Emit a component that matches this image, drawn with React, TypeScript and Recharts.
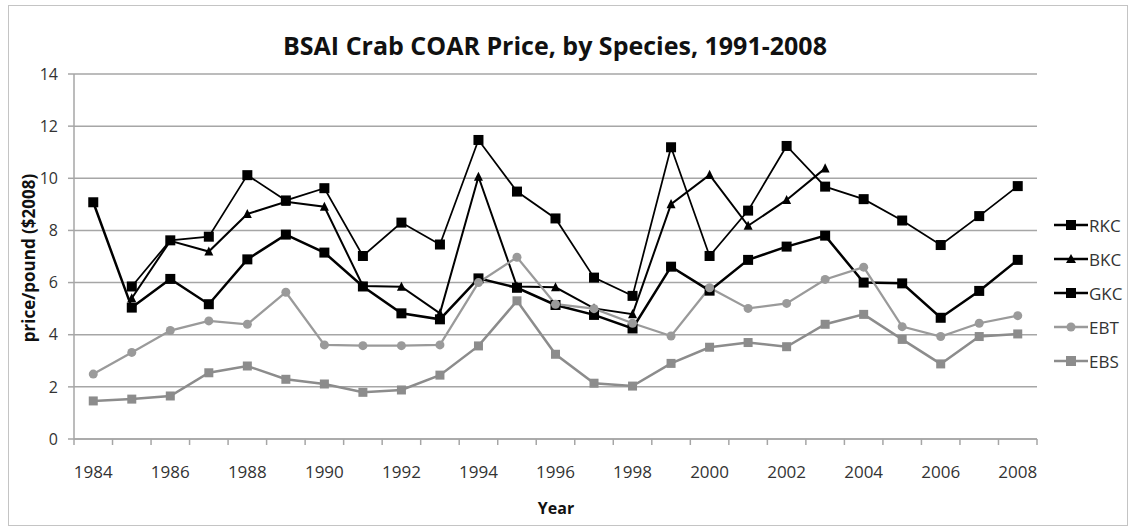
import { LineChart, Line, XAxis, YAxis, CartesianGrid } from "recharts";

const years = [
  1984, 1985, 1986, 1987, 1988, 1989, 1990, 1991, 1992, 1993, 1994, 1995, 1996,
  1997, 1998, 1999, 2000, 2001, 2002, 2003, 2004, 2005, 2006, 2007, 2008,
];

const rkc = [
  null, 5.85, 7.62, 7.76, 10.12, 9.15, 9.62, 7.02, 8.3, 7.46, 11.47, 9.49, 8.46,
  6.19, 5.49, 11.19, 7.02, 8.76, 11.24, 9.68, 9.2, 8.38, 7.44, 8.55, 9.7,
];
const bkc = [
  null, 5.4, 7.6, 7.19, 8.63, 9.1, 8.91, 5.87, 5.84, 4.82, 10.06, 5.85, 5.82,
  5.01, 4.79, 9.01, 10.13, 8.18, 9.17, 10.38, null, null, null, null, null,
];
const gkc = [
  9.08, 5.04, 6.14, 5.17, 6.89, 7.84, 7.15, 5.85, 4.82, 4.59, 6.16, 5.8, 5.14,
  4.76, 4.24, 6.61, 5.69, 6.87, 7.38, 7.8, 6.0, 5.97, 4.65, 5.68, 6.87,
];
const ebt = [
  2.49, 3.32, 4.16, 4.53, 4.4, 5.63, 3.61, 3.58, 3.58, 3.61, 6.0, 6.97, 5.17,
  5.0, 4.44, 3.95, 5.8, 5.01, 5.2, 6.12, 6.59, 4.31, 3.93, 4.44, 4.73,
];
const ebs = [
  1.46, 1.53, 1.65, 2.54, 2.8, 2.29, 2.11, 1.79, 1.88, 2.45, 3.57, 5.3, 3.25,
  2.14, 2.03, 2.9, 3.52, 3.7, 3.54, 4.4, 4.78, 3.82, 2.88, 3.93, 4.03,
];

const yTicks = [0, 2, 4, 6, 8, 10, 12, 14];

const data = years.map((year, i) => ({
  year,
  RKC: rkc[i],
  BKC: bkc[i],
  GKC: gkc[i],
  EBT: ebt[i],
  EBS: ebs[i],
}));

// category boundaries (Excel puts tick marks between categories)
const boundaries = [...years.map((y) => y - 0.5), years[years.length - 1] + 0.5];

const W = 1131;
const H = 527;
const PLOT_LEFT = 74;
const PLOT_RIGHT = 1037;
const PLOT_TOP = 74;
const PLOT_BOTTOM = 439;
const BAND = (PLOT_RIGHT - PLOT_LEFT) / years.length;
const FONT = "'Open Sans', sans-serif";
const BLACK = "#000";
const GRAY1 = "#9a9a9a";
const GRAY2 = "#8c8c8c";

const square = (size: number, fill: string) => (p: any) => {
  if (p.cx == null || p.cy == null || p.value == null) return <g key={p.key} />;
  return (
    <rect
      key={p.key}
      x={p.cx - size / 2}
      y={p.cy - size / 2}
      width={size}
      height={size}
      fill={fill}
    />
  );
};

const triangle = (size: number, fill: string) => (p: any) => {
  if (p.cx == null || p.cy == null || p.value == null) return <g key={p.key} />;
  const h = size * 0.9;
  return (
    <polygon
      key={p.key}
      points={`${p.cx},${p.cy - h / 2 - 1} ${p.cx - size / 2},${p.cy + h / 2} ${p.cx + size / 2},${p.cy + h / 2}`}
      fill={fill}
    />
  );
};

const circle = (r: number, fill: string) => (p: any) => {
  if (p.cx == null || p.cy == null || p.value == null) return <g key={p.key} />;
  return <circle key={p.key} cx={p.cx} cy={p.cy} r={r} fill={fill} />;
};

const XTick = (props: any) => {
  const { x, payload } = props;
  const year = payload.value + 0.5;
  const showLabel = years.includes(year) && (year - years[0]) % 2 === 0;
  return (
    <g>
      <line x1={x} x2={x} y1={PLOT_BOTTOM} y2={PLOT_BOTTOM + 6} stroke="#a6a6a6" strokeWidth={1.5} />
      {showLabel && (
        <text
          x={x + BAND / 2}
          y={PLOT_BOTTOM + 39}
          textAnchor="middle"
          fontSize={17}
          fontFamily={FONT}
          fill="#333"
        >
          {year}
        </text>
      )}
    </g>
  );
};

const legendItems = [
  { name: "RKC", color: BLACK, marker: "square" },
  { name: "BKC", color: BLACK, marker: "triangle" },
  { name: "GKC", color: BLACK, marker: "square" },
  { name: "EBT", color: GRAY1, marker: "circle" },
  { name: "EBS", color: GRAY2, marker: "square" },
];

export default function App() {
  return (
    <div style={{ position: "absolute", left: 0, top: 0, width: W, height: H, background: "#fff", fontFamily: FONT }}>
      <div
        style={{
          position: "absolute",
          left: 8,
          top: 5,
          width: 1118,
          height: 519,
          border: "1px solid #c4c4c4",
        }}
      />
      <div
        style={{
          position: "absolute",
          left: 0,
          width: 1110,
          top: 28,
          textAlign: "center",
          fontSize: 25,
          fontWeight: 700,
          color: "#111",
        }}
      >
        BSAI Crab COAR Price, by Species, 1991-2008
      </div>
      <div
        style={{
          position: "absolute",
          left: 28,
          top: 258,
          transform: "translate(-50%, -50%) rotate(-90deg)",
          whiteSpace: "nowrap",
          fontSize: 17,
          fontWeight: 700,
          color: "#111",
        }}
      >
        price/pound ($2008)
      </div>
      <div
        style={{
          position: "absolute",
          left: 556,
          top: 508,
          transform: "translate(-50%, -50%)",
          fontSize: 16,
          fontWeight: 700,
          color: "#111",
        }}
      >
        Year
      </div>

      <div style={{ position: "absolute", left: 0, top: 0 }}>
        <LineChart
          width={W}
          height={H}
          data={data}
          margin={{ top: PLOT_TOP, right: W - PLOT_RIGHT, bottom: H - PLOT_BOTTOM - 40, left: PLOT_LEFT - 50 }}
        >
          <CartesianGrid vertical={false} stroke="#a6a6a6" strokeWidth={1.5} />
          <XAxis
            dataKey="year"
            type="number"
            domain={[boundaries[0], boundaries[boundaries.length - 1]]}
            ticks={boundaries}
            interval={0}
            height={40}
            tickLine={false}
            tick={<XTick />}
            axisLine={{ stroke: "#a6a6a6", strokeWidth: 1.5 }}
          />
          <YAxis
            width={50}
            domain={[0, 14]}
            ticks={yTicks}
            interval={0}
            tickSize={6}
            tickMargin={10}
            tickLine={{ stroke: "#a6a6a6", strokeWidth: 1.5 }}
            axisLine={{ stroke: "#a6a6a6", strokeWidth: 1.5 }}
            tick={{ fontSize: 16, fontFamily: FONT, fill: "#333" }}
          />
          <Line dataKey="RKC" stroke={BLACK} strokeWidth={1.75} dot={square(10, BLACK)} isAnimationActive={false} />
          <Line dataKey="BKC" stroke={BLACK} strokeWidth={2} dot={triangle(9, BLACK)} isAnimationActive={false} />
          <Line dataKey="GKC" stroke={BLACK} strokeWidth={2.5} dot={square(10, BLACK)} isAnimationActive={false} />
          <Line dataKey="EBT" stroke={GRAY1} strokeWidth={2.25} dot={circle(4.5, GRAY1)} isAnimationActive={false} />
          <Line dataKey="EBS" stroke={GRAY2} strokeWidth={2.5} dot={square(9, GRAY2)} isAnimationActive={false} />
        </LineChart>
      </div>

      {legendItems.map((item, i) => (
        <div
          key={item.name}
          style={{
            position: "absolute",
            left: 1054,
            top: 225 + i * 34 - 12,
            height: 24,
            display: "flex",
            alignItems: "center",
          }}
        >
          <svg width={36} height={24}>
            <line x1={0} x2={34} y1={12} y2={12} stroke={item.color} strokeWidth={2.5} />
            {item.marker === "square" && <rect x={12} y={7} width={10} height={10} fill={item.color} />}
            {item.marker === "triangle" && <polygon points="17,7 12,16 22,16" fill={item.color} />}
            {item.marker === "circle" && <circle cx={17} cy={12} r={4.5} fill={item.color} />}
          </svg>
          <span style={{ fontSize: 17, color: "#333", marginLeft: -1 }}>{item.name}</span>
        </div>
      ))}
    </div>
  );
}
